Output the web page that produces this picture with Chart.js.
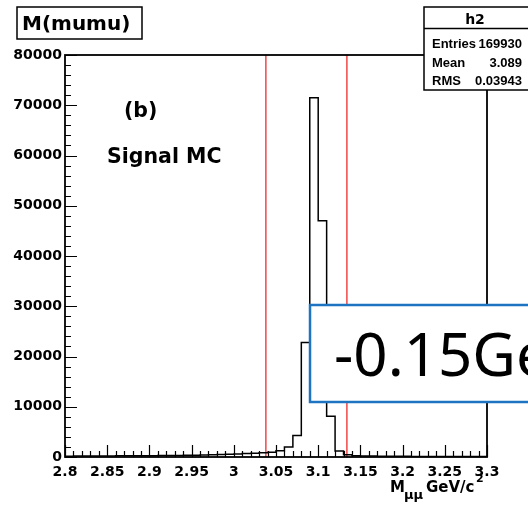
<!DOCTYPE html>
<html>
<head>
<meta charset="utf-8">
<script src="https://cdn.jsdelivr.net/npm/chart.js@4"></script>
<style>
html,body{margin:0;padding:0;background:#fff;}
#wrap{width:528px;height:505px;position:relative;}
</style>
</head>
<body>
<div id="wrap"><canvas id="c" width="528" height="505"></canvas></div>
<script>
// ---- data ----
const binLowEdges = [2.80,2.81,2.82,2.83,2.84,2.85,2.86,2.87,2.88,2.89,
                     2.90,2.91,2.92,2.93,2.94,2.95,2.96,2.97,2.98,2.99,
                     3.00,3.01,3.02,3.03,3.04,3.05,3.06,3.07,3.08,3.09,
                     3.10,3.11,3.12,3.13,3.14,3.15,3.16,3.17,3.18,3.19,
                     3.20,3.21,3.22,3.23,3.24,3.25,3.26,3.27,3.28,3.29];
const binUpperEnd = 3.30;
const counts = [170,180,190,200,210,220,230,240,250,260,
                270,285,300,320,340,360,390,430,480,540,
                600,680,760,850,950,1250,2000,4300,22800,71500,
                47000,8100,1200,450,250,200,180,160,150,140,
                130,120,115,110,105,100,95,90,85,80];
const cutLines = [3.038, 3.134];
const xTickValues = [2.8,2.85,2.9,2.95,3.0,3.05,3.1,3.15,3.2,3.25,3.3];
const xTickLabels = ['2.8','2.85','2.9','2.95','3','3.05','3.1','3.15','3.2','3.25','3.3'];
const yTickValues = [0,10000,20000,30000,40000,50000,60000,70000,80000];
const yTickLabels = ['0','10000','20000','30000','40000','50000','60000','70000','80000'];
const titleText = 'M(mumu)';
const statsName = 'h2';
const statsRows = [['Entries','169930'],['Mean','3.089'],['RMS','0.03943']];
const annotations = ['(b)','Signal MC'];
const overlayText = '-0.15GeV';

// ---- build ----
const histPts = binLowEdges.map((x,i)=>({x:x,y:counts[i]}));
histPts.push({x:binUpperEnd,y:counts[counts.length-1]});

const datasets = [
  {data:histPts, stepped:'before', borderColor:'#000', borderWidth:1.5, pointRadius:0, fill:false, tension:0}
];
cutLines.forEach(v=>{
  datasets.push({data:[{x:v,y:0},{x:v,y:80000}], borderColor:'#f03a3a', borderWidth:1.4, pointRadius:0, fill:false});
});

const framePlugin = {
  id:'frame',
  afterDatasetsDraw(chart){
    const ctx = chart.ctx, a = chart.chartArea;
    const xs = chart.scales.x, ys = chart.scales.y;
    ctx.save();
    ctx.strokeStyle = '#000';
    ctx.lineWidth = 1.8;
    ctx.strokeRect(a.left, a.top, a.right-a.left, a.bottom-a.top);
    ctx.lineWidth = 1.2;
    ctx.beginPath();
    for (let k=0;k<=50;k++){
      const v = 2.8 + k*0.01;
      const px = Math.round(xs.getPixelForValue(v))+0.5;
      const len = (k%5===0)?12:6;
      ctx.moveTo(px, a.bottom); ctx.lineTo(px, a.bottom-len);
    }
    for (let k=0;k<=40;k++){
      const v = k*2000;
      const py = Math.round(ys.getPixelForValue(v))+0.5;
      const len = (k%5===0)?12:6;
      ctx.moveTo(a.left, py); ctx.lineTo(a.left+len, py);
    }
    ctx.stroke();
    ctx.restore();
  },
  afterDraw(chart){
    const ctx = chart.ctx;
    ctx.save();
    // title box
    ctx.fillStyle='#fff'; ctx.strokeStyle='#000'; ctx.lineWidth=1.5;
    ctx.fillRect(17,7,125,32); ctx.strokeRect(17,7,125,32);
    ctx.fillStyle='#000'; ctx.font='bold 20px "DejaVu Sans"'; ctx.textBaseline='alphabetic'; ctx.textAlign='left';
    ctx.fillText(titleText, 22, 30);
    // stats box
    ctx.fillStyle='#fff'; ctx.fillRect(424,7,110,83);
    ctx.strokeStyle='#000'; ctx.lineWidth=1.5; ctx.strokeRect(424,7,110,83);
    ctx.beginPath(); ctx.moveTo(424,28.5); ctx.lineTo(528,28.5); ctx.stroke();
    ctx.fillStyle='#000';
    ctx.font='bold 14px "DejaVu Sans"'; ctx.textAlign='center';
    ctx.fillText(statsName, 475, 24);
    ctx.font='bold 13px "Liberation Sans"';
    const rowY=[48,67,85];
    statsRows.forEach((r,i)=>{
      ctx.textAlign='left'; ctx.fillText(r[0],432,rowY[i]);
      ctx.textAlign='right'; ctx.fillText(r[1],522,rowY[i]);
    });
    // annotations
    ctx.textAlign='left';
    ctx.font='bold 20.5px "DejaVu Sans"';
    ctx.fillText(annotations[0],124,117);
    ctx.fillText(annotations[1],107,163);
    // x axis title
    ctx.font='bold 15px "DejaVu Sans"';
    ctx.fillText('M',390,492);
    ctx.font='bold 13px "DejaVu Sans"';
    ctx.fillText('\u03BC\u03BC',404,499);
    ctx.font='bold 15px "DejaVu Sans"';
    ctx.fillText('GeV/c',426,492);
    ctx.font='bold 11px "DejaVu Sans"';
    ctx.fillText('2',476,482);
    // overlay box
    ctx.fillStyle='#fff'; ctx.fillRect(310,305,230,97);
    ctx.strokeStyle='#1f74c2'; ctx.lineWidth=2.5; ctx.strokeRect(310,305,230,97);
    ctx.fillStyle='#000'; ctx.font='60px "Noto Sans"'; ctx.textAlign='left';
    ctx.fillText(overlayText,334,376);
    ctx.restore();
  }
};

new Chart(document.getElementById('c'), {
  type:'line',
  data:{datasets:datasets},
  options:{
    responsive:false,
    animation:false,
    events:[],
    layout:{padding:{left:0,right:41,top:55,bottom:0}},
    plugins:{legend:{display:false},tooltip:{enabled:false}},
    scales:{
      x:{
        type:'linear', min:2.8, max:3.3,
        grid:{display:false, drawTicks:false},
        border:{display:false},
        afterBuildTicks:(s)=>{ s.ticks = xTickValues.map(v=>({value:v})); },
        afterFit:(s)=>{ s.height = 48; },
        ticks:{
          autoSkip:false, maxRotation:0, padding:7, color:'#000',
          font:{family:'DejaVu Sans', weight:'bold', size:14},
          callback:(v,i)=>xTickLabels[i]
        }
      },
      y:{
        type:'linear', min:0, max:80000,
        grid:{display:false, drawTicks:false},
        border:{display:false},
        afterBuildTicks:(s)=>{ s.ticks = yTickValues.map(v=>({value:v})); },
        afterFit:(s)=>{ s.width = 65; },
        ticks:{
          autoSkip:false, padding:3, color:'#000',
          font:{family:'DejaVu Sans', weight:'bold', size:14},
          callback:(v,i)=>yTickLabels[i]
        }
      }
    }
  },
  plugins:[framePlugin]
});
</script>
</body>
</html>
